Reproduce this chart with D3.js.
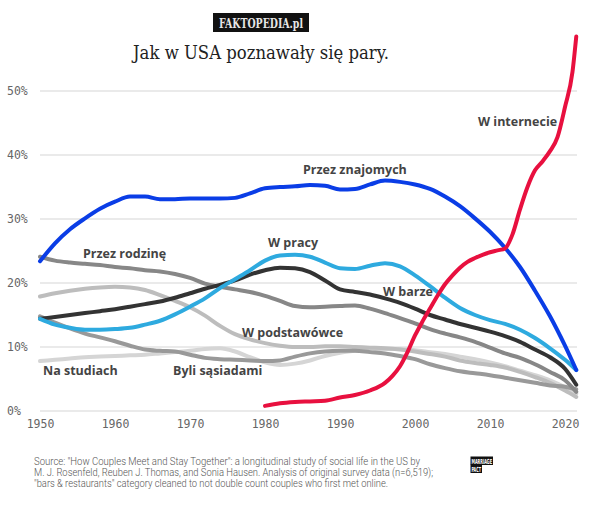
<!DOCTYPE html>
<html>
<head>
<meta charset="utf-8">
<script src="https://cdn.jsdelivr.net/npm/d3@7"></script>
<style>
html,body{margin:0;padding:0;background:#fff;}
svg{display:block;}
</style>
</head>
<body>
<svg id="chart" width="600" height="511"></svg>
<script>
// ---------- DATA ----------
const years = [1950,1952,1954,1956,1958,1960,1962,1964,1966,1968,1970,1972,1974,1976,1978,1980,1982,1984,1986,1988,1990,1992,1994,1996,1998,2000,2002,2004,2006,2008,2010,2012,2014,2016,2018,2020,2021.5];

const friendsValues   = [23.4,26.2,28.4,30.1,31.6,32.7,33.5,33.5,33.1,33.1,33.2,33.2,33.2,33.3,34.0,34.8,35.0,35.1,35.3,35.2,34.6,34.7,35.4,36.0,35.8,35.4,34.7,33.5,32.0,30.1,28.0,25.5,22.5,18.8,14.8,10.2,6.4];
const workValues      = [14.4,13.5,13.0,12.7,12.7,12.8,13.0,13.5,14.1,15.1,16.3,17.6,19.2,20.6,22.0,23.5,24.3,24.4,24.1,23.2,22.3,22.2,22.7,23.1,22.6,21.2,19.5,17.7,16.1,15.0,14.2,13.6,12.7,11.4,9.8,8.0,6.4];
const barValues       = [14.4,14.7,15.0,15.3,15.6,15.9,16.3,16.7,17.1,17.7,18.4,19.1,19.7,20.4,21.3,22.0,22.4,22.3,21.7,20.4,19.0,18.6,18.2,17.6,16.9,16.0,15.0,14.3,13.6,13.0,12.4,11.7,10.8,9.6,8.4,6.6,4.1];
const familyValues    = [24.1,23.5,23.2,23.0,22.8,22.5,22.3,22.0,21.8,21.4,20.8,19.9,19.4,19.0,18.6,18.0,17.2,16.4,16.2,16.3,16.4,16.5,16.0,15.3,14.5,13.7,12.8,12.1,11.5,10.8,9.9,9.0,8.3,7.3,6.1,4.8,3.0];
const neighborsValues = [14.8,13.8,12.9,12.1,11.5,10.9,10.2,9.6,9.4,9.3,8.8,8.3,8.1,8.0,7.9,7.8,7.9,8.5,9.0,9.3,9.4,9.4,9.2,9.0,8.6,8.1,7.3,6.7,6.2,5.9,5.6,5.2,4.8,4.4,4.0,3.8,3.4];
const schoolValues    = [17.9,18.4,18.8,19.1,19.3,19.4,19.3,18.9,18.1,17.2,16.2,14.9,13.3,12.0,11.2,10.6,10.2,10.0,10.0,10.1,10.1,10.0,9.9,9.8,9.6,9.3,8.9,8.5,7.9,7.5,7.2,6.8,6.1,5.3,4.4,3.2,2.2];
const collegeValues   = [7.8,8.0,8.2,8.4,8.5,8.6,8.7,8.8,9.0,9.2,9.4,9.7,9.8,9.3,8.4,7.6,7.2,7.4,7.9,8.6,9.1,9.4,9.6,9.7,9.7,9.5,9.2,8.9,8.5,8.1,7.6,7.0,6.3,5.6,4.8,3.7,2.7];

const onlineYears  = [1980,1982,1984,1986,1988,1990,1992,1994,1996,1997,1998,1999,2000,2001,2002,2003,2004,2005,2006,2007,2008,2009,2010,2011,2012,2013,2014,2015,2016,2017,2018,2019,2020,2021,2021.5];
const onlineValues = [0.8,1.2,1.4,1.5,1.6,2.1,2.5,3.2,4.4,5.5,7.0,9.2,11.8,14.0,16.0,18.0,19.8,21.2,22.4,23.3,23.9,24.4,24.8,25.1,25.4,27.6,31.5,35.0,37.6,39.0,40.6,42.8,47.5,53.0,58.5];

const seriesNames  = ["Na studiach","W podstawówce","Byli sąsiadami","Przez rodzinę","W barze","W pracy","Przez znajomych","W internecie"];
const seriesColors = ["#d5d5d5","#bdbdbd","#999999","#878787","#333333","#2eaadf","#0a3de6","#e8103f"];

const yTicks = [0,10,20,30,40,50];
const xTicks = [1950,1960,1970,1980,1990,2000,2010,2020];

const titleText = "Jak w USA poznawały się pary.";
const brandText = "FAKTOPEDIA.pl";
const sourceLines = [
  "Source: \"How Couples Meet and Stay Together\": a longitudinal study of social life in the US by",
  "M. J. Rosenfeld, Reuben J. Thomas, and Sonia Hausen. Analysis of original survey data (n=6,519);",
  "\"bars & restaurants\" category cleaned to not double count couples who first met online."
];
const sourceWidths = [386, 399, 354];

// ---------- CHART ----------
const svg = d3.select("#chart");
const x = d3.scaleLinear().domain([1950, 2021.5]).range([40, 576.25]);
const y = d3.scaleLinear().domain([0, 50]).range([411, 91]);

// brand box
const brandG = svg.append("g");
brandG.append("rect").attr("x",213).attr("y",13).attr("width",96).attr("height",19).attr("fill","#111");
brandG.append("text").attr("x",261).attr("y",28).attr("text-anchor","middle")
  .attr("font-family","DejaVu Serif Condensed, DejaVu Serif").attr("font-weight","bold").attr("font-size",13)
  .attr("fill","#e6e6e6").attr("textLength",84).attr("lengthAdjust","spacingAndGlyphs").text(brandText);

// title
svg.append("text").attr("x",261).attr("y",59).attr("text-anchor","middle")
  .attr("font-family","DejaVu Serif").attr("font-size",19).attr("fill","#222")
  .attr("textLength",256).attr("lengthAdjust","spacingAndGlyphs").text(titleText);

// grid
svg.append("g").selectAll("line").data(yTicks).join("line")
  .attr("x1",40).attr("x2",577).attr("y1",d=>y(d)).attr("y2",d=>y(d))
  .attr("stroke","#e3e3e3").attr("stroke-width",1.5);

// y tick labels
svg.append("g").selectAll("text").data(yTicks).join("text")
  .attr("x",7).attr("y",d=>y(d)+4)
  .attr("font-family","DejaVu Sans Mono").attr("font-size",11.5).attr("fill","#666")
  .text(d=>d+"%");

// x axis labels
const xAxis = d3.axisBottom(x).tickValues(xTicks).tickFormat(d3.format("d")).tickSize(0).tickPadding(0);
const xg = svg.append("g").attr("transform","translate(0,420)").call(xAxis);
xg.select(".domain").remove();
xg.selectAll("text").attr("font-family","DejaVu Sans Mono").attr("font-size",11.5).attr("fill","#666").attr("dy","0.71em");

// lines
const allValues = [collegeValues, schoolValues, neighborsValues, familyValues, barValues, workValues, friendsValues, onlineValues];
const line = d3.line().x(d=>x(d[0])).y(d=>y(d[1])).curve(d3.curveMonotoneX);
allValues.forEach((vals,i)=>{
  const yrs = (vals === onlineValues) ? onlineYears : years;
  const pts = yrs.map((yr,j)=>[yr, vals[j]]);
  svg.append("path").datum(pts).attr("d",line).attr("fill","none")
    .attr("stroke",seriesColors[i]).attr("stroke-width",4)
    .attr("stroke-linecap","round").attr("stroke-linejoin","round");
});

// series labels
const labelPos = [
  {name:"Na studiach", x:43, y:375, a:"start"},
  {name:"W podstawówce", x:242, y:337, a:"start"},
  {name:"Byli sąsiadami", x:173, y:375, a:"start"},
  {name:"Przez rodzinę", x:83, y:258, a:"start"},
  {name:"W barze", x:383, y:296, a:"start"},
  {name:"W pracy", x:268, y:247, a:"start"},
  {name:"Przez znajomych", x:303, y:174, a:"start"},
  {name:"W internecie", x:478, y:126, a:"start"}
];
svg.append("g").selectAll("text").data(labelPos).join("text")
  .attr("x",d=>d.x).attr("y",d=>d.y).attr("text-anchor",d=>d.a)
  .attr("font-family","Open Sans").attr("font-weight","bold").attr("font-size",12.5)
  .attr("fill","#444").text(d=>d.name);

// source
svg.append("g").selectAll("text").data(sourceLines).join("text")
  .attr("x",34).attr("y",(d,i)=>464.5+i*11)
  .attr("font-family","Roboto").attr("font-weight",300).attr("font-size",10).attr("fill","#555")
  .attr("textLength",(d,i)=>sourceWidths[i]).attr("lengthAdjust","spacingAndGlyphs")
  .text(d=>d);

// marriage pact logo
const mp = svg.append("g");
mp.append("rect").attr("x",470.5).attr("y",456.5).attr("width",22.5).attr("height",8.5).attr("fill","#111");
mp.append("rect").attr("x",470.5).attr("y",464.5).attr("width",11.5).attr("height",8.5).attr("fill","#111");
mp.append("text").attr("x",471.5).attr("y",463.8).attr("font-family","DejaVu Sans Condensed").attr("font-weight","bold")
  .attr("font-size",7).attr("fill","#fff").attr("textLength",20.5).attr("lengthAdjust","spacingAndGlyphs").text("MARRIAGE");
mp.append("text").attr("x",471.5).attr("y",471.8).attr("font-family","DejaVu Sans Condensed").attr("font-weight","bold")
  .attr("font-size",7).attr("fill","#fff").attr("textLength",9.5).attr("lengthAdjust","spacingAndGlyphs").text("PACT");
</script>
</body>
</html>
